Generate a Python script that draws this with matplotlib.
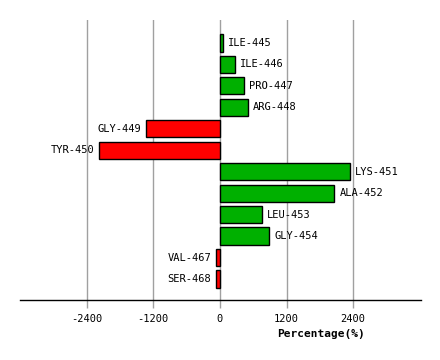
import matplotlib
matplotlib.use('Agg')
import matplotlib.pyplot as plt

residues = ['ILE-445', 'ILE-446', 'PRO-447', 'ARG-448', 'GLY-449', 'TYR-450',
            'LYS-451', 'ALA-452', 'LEU-453', 'GLY-454', 'VAL-467', 'SER-468']
values = [50, 270, 430, 505, -1330, -2170, 2335, 2060, 760, 890, -70, -70]
ticks = [-2400, -1200, 0, 1200, 2400]

fig = plt.figure(figsize=(4.4, 3.6), dpi=100)
ax = fig.add_axes([20 / 440., 60 / 360., 401 / 440., 280 / 360.])

ypos = list(range(len(residues)))
colors = ['#00b000' if v >= 0 else '#ff0000' for v in values]
ax.barh(ypos, values, height=0.8, color=colors, edgecolor='black', linewidth=1, zorder=3)

font = dict(family='DejaVu Sans Mono', fontsize=7.5)
for y, v, name in zip(ypos, values, residues):
    if v >= 0:
        ax.text(v + 90, y, name, ha='left', va='center', **font)
    else:
        ax.text(v - 90, y, name, ha='right', va='center', **font)

ax.set_xlim(-3600, 3620)
ax.set_ylim(len(residues) - 0.02, -1.07)
ax.set_xticks(ticks)
ax.set_xticklabels([str(t) for t in ticks], **font)
ax.set_yticks([])
ax.xaxis.grid(True, color='#a0a0a0', linewidth=1, zorder=0)
ax.tick_params(axis='x', length=6, width=1, color='#a0a0a0', pad=4)
for s in ['top', 'left', 'right']:
    ax.spines[s].set_visible(False)
ax.spines['bottom'].set_linewidth(1)
ax.set_xlabel('Percentage(%)', family='DejaVu Sans Mono', fontsize=8, fontweight='bold')
ax.xaxis.set_label_coords(0.75, -0.105)

plt.savefig('out.png', dpi=100)
